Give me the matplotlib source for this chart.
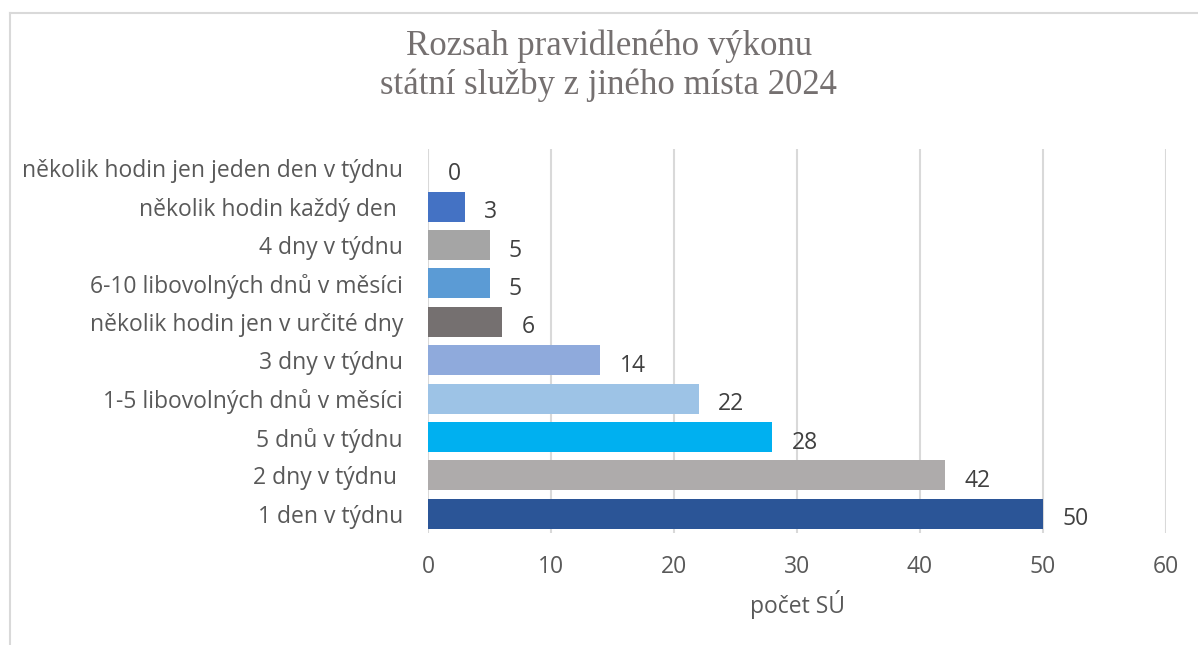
import matplotlib.pyplot as plt
from matplotlib.lines import Line2D

categories = ['1 den v týdnu', '2 dny v týdnu ', '5 dnů v týdnu', '1-5 libovolných dnů v měsíci',
              '3 dny v týdnu', 'několik hodin jen v určité dny', '6-10 libovolných dnů v měsíci',
              '4 dny v týdnu', 'několik hodin každý den ', 'několik hodin jen jeden den v týdnu']
values = [50, 42, 28, 22, 14, 6, 5, 5, 3, 0]
colors = ['#2B5597', '#AEABAB', '#00B0F0', '#9DC3E6', '#8FAADC',
          '#757070', '#5B9BD5', '#A5A5A5', '#4472C4', '#4472C4']
xticks = [0, 10, 20, 30, 40, 50, 60]

plt.rcParams['font.family'] = ['Open Sans', 'DejaVu Sans']

fig = plt.figure(figsize=(11.98, 6.45), dpi=100)
ax = fig.add_axes([0.3573, 0.1736, 0.616, 0.5954])

y = list(range(len(categories)))
ax.barh(y, values, height=0.78, color=colors, zorder=2)
for yi, v in zip(y, values):
    ax.annotate(str(v), (v, yi), xytext=(14, -4), textcoords='offset points',
                ha='left', va='center', fontsize=16.5, color='#404040')

ax.set_xlim(0, 60)
ax.set_ylim(-0.5, 9.5)
ax.set_xticks(xticks)
ax.set_yticks(y)
ax.set_yticklabels(categories)
ax.tick_params(axis='both', length=0, labelsize=16.5, labelcolor='#595959')
ax.tick_params(axis='y', pad=18)
ax.tick_params(axis='x', pad=16)
ax.grid(axis='x', color='#D9D9D9', linewidth=1.5, zorder=0)
for s in ax.spines.values():
    s.set_visible(False)
ax.set_xlabel('počet SÚ', fontsize=16.5, color='#595959', labelpad=8)

fig.text(0.508, 0.898, 'Rozsah pravidleného výkonu\nstátní služby z jiného místa 2024',
         ha='center', va='center', fontsize=25, color='#757070',
         family='Liberation Serif', linespacing=1.2)

# chart border (left and top edges)
fig.add_artist(Line2D([10 / 1198, 10 / 1198], [0, 1 - 13 / 645], color='#D9D9D9', lw=1.5))
fig.add_artist(Line2D([10 / 1198, 1], [1 - 13 / 645, 1 - 13 / 645], color='#D9D9D9', lw=1.5))

fig.savefig('out.png', dpi=100)
